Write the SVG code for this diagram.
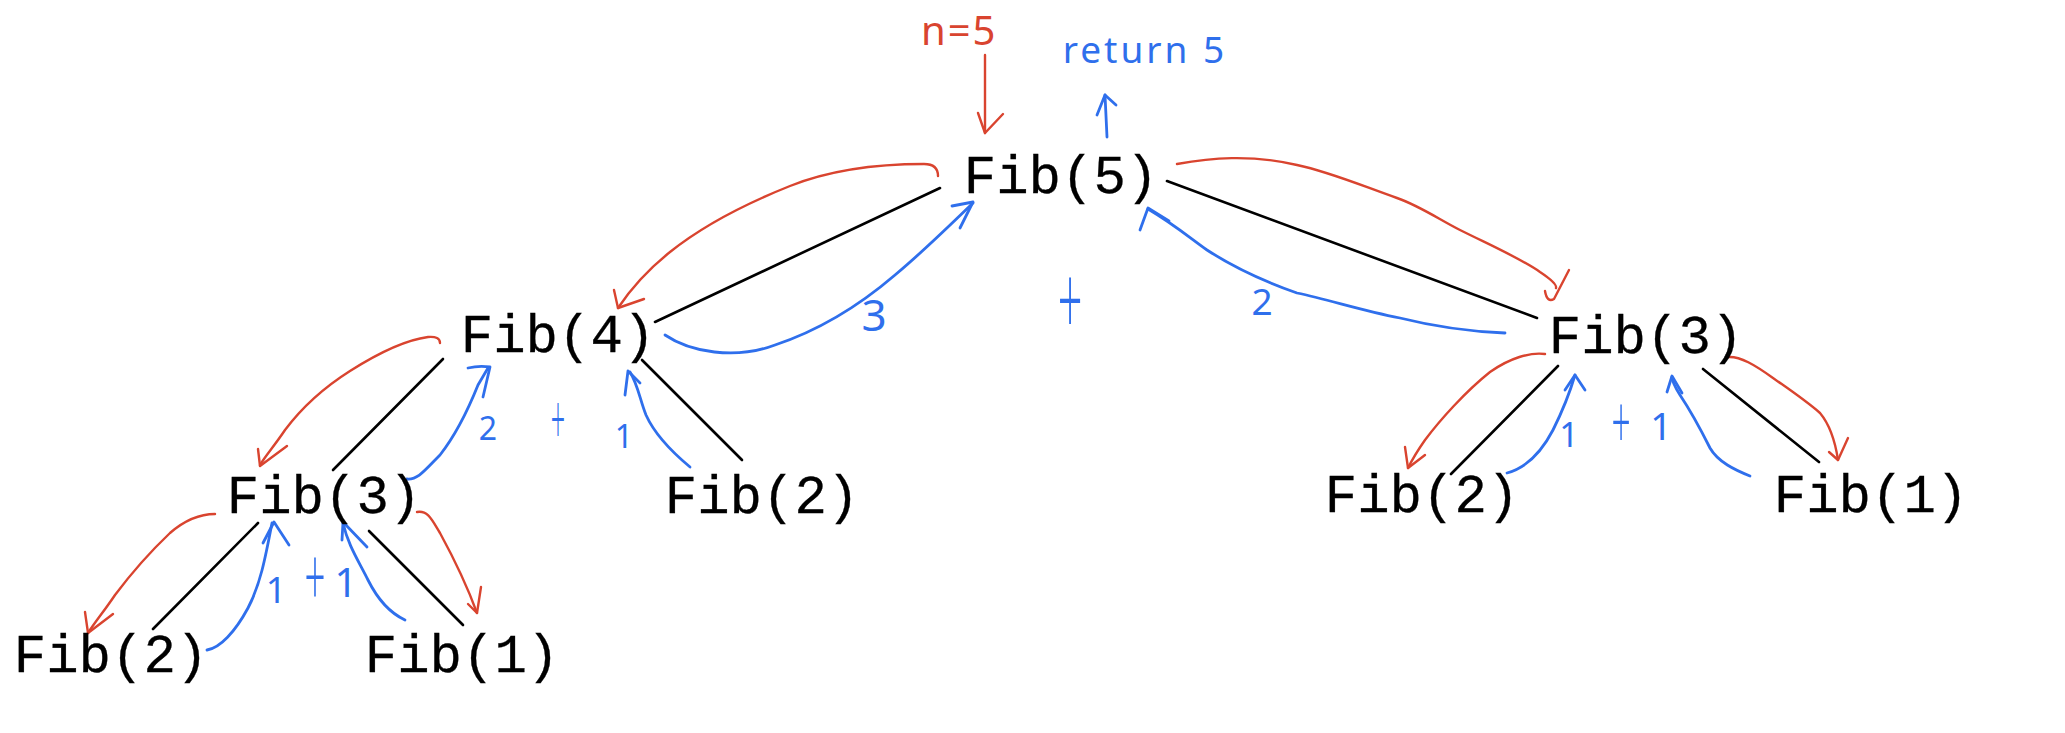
<svg xmlns="http://www.w3.org/2000/svg" width="2065" height="733" viewBox="0 0 2065 733">
<style>
.node text{font-family:"Liberation Mono","Courier New",monospace;font-size:54px;fill:#000;stroke:#000;stroke-width:0.3px;text-anchor:middle}
.edge{stroke:#000;stroke-width:2.6;fill:none;stroke-linecap:round}
.red{stroke:#d9442f;stroke-width:2.4;fill:none;stroke-linecap:round;stroke-linejoin:round}
.blue{stroke:#2f6fec;stroke-width:2.8;fill:none;stroke-linecap:round;stroke-linejoin:round}
.hb{font-family:"Noto Sans","Liberation Sans",sans-serif;fill:#2f6fec;text-anchor:middle}
.plus{font-family:"Open Sans","Noto Sans",sans-serif;font-weight:300;fill:#2f6fec;text-anchor:middle}
.hr{font-family:"Noto Sans","Liberation Sans",sans-serif;fill:#d9442f}
</style>
<rect width="2065" height="733" fill="#fff"/>
<g id="connectors">
<path class="edge" d="M940,188 L655,322"/>
<path class="edge" d="M1167,181 L1537,318"/>
<path class="edge" d="M443,359 L333,470"/>
<path class="edge" d="M642,360 L742,460"/>
<path class="edge" d="M1558,366 L1451,474"/>
<path class="edge" d="M1703,369 L1819,462"/>
<path class="edge" d="M258,523 L153,629"/>
<path class="edge" d="M369,531 L463,625"/>
</g>
<g id="calls">
<path class="red" d="M985,55 L985,133"/>
<path class="red" d="M978,113 L985,133 L1003,114"/>
<path class="red" d="M938,176 Q938,164 924,164 C880,164 830,170 790,186 C740,206 700,228 670,252 C645,272 630,290 618,308"/>
<path class="red" d="M614,290 L618,308 L644,299"/>
<path class="red" d="M1177,164 C1210,158 1250,154 1297,165 C1330,172 1360,185 1397,198 C1420,206 1440,220 1460,230 C1490,245 1520,258 1540,272 C1552,280 1557,285 1556,288"/>
<path class="red" d="M1545,291 Q1547,303 1554,299 L1569,270"/>
<path class="red" d="M440,343 Q440,336 428,337 C405,340 380,352 350,371 C320,390 300,410 285,430 C275,445 266,455 260,465"/>
<path class="red" d="M258,449 L260,466 L287,446"/>
<path class="red" d="M215,514 C200,514 185,520 170,533 C150,552 130,575 115,595 C105,610 95,622 88,633"/>
<path class="red" d="M85,612 L88,633 L113,614"/>
<path class="red" d="M417,512 C428,510 432,520 440,533 C452,555 465,580 477,613"/>
<path class="red" d="M468,604 L477,613 L481,587"/>
<path class="red" d="M1545,354 C1530,352 1510,358 1490,372 C1465,392 1440,420 1425,440 C1418,450 1412,460 1408,468"/>
<path class="red" d="M1405,447 L1408,468 L1425,455"/>
<path class="red" d="M1728,357 C1740,356 1755,365 1773,378 C1790,390 1805,400 1820,413 C1830,425 1835,440 1838,460"/>
<path class="red" d="M1829,452 L1838,460 L1848,438"/>
</g>
<g id="returns">
<path class="blue" d="M1107,137 L1105,95"/>
<path class="blue" d="M1097,115 L1105,95 L1116,105"/>
<path class="blue" d="M665,335 C690,352 735,360 775,345 C820,330 860,305 895,275 C925,250 950,225 973,203"/>
<path class="blue" d="M952,206 L973,202 L960,228"/>
<path class="blue" d="M1505,333 C1480,332 1440,328 1400,318 C1360,310 1330,300 1297,293 C1260,280 1230,265 1207,250 C1190,238 1175,225 1148,209"/>
<path class="blue" d="M1140,230 L1148,208 L1169,221"/>
<path class="blue" d="M407,479 C418,480 425,470 440,455 C458,432 470,405 478,385 L488,368"/>
<path class="blue" d="M468,368 C476,366 484,366 490,367 L483,397"/>
<path class="blue" d="M690,467 C672,452 655,435 646,415 C640,400 638,385 630,372"/>
<path class="blue" d="M625,395 L628,371 L640,383"/>
<path class="blue" d="M207,650 C220,648 235,632 248,608 C260,585 265,560 272,523"/>
<path class="blue" d="M263,543 L274,522 L289,545"/>
<path class="blue" d="M405,620 C390,613 378,600 368,580 C358,560 348,545 343,523"/>
<path class="blue" d="M342,540 L343,522 L367,547"/>
<path class="blue" d="M1507,473 C1525,468 1540,455 1553,430 C1563,410 1570,392 1575,375"/>
<path class="blue" d="M1565,390 L1575,375 L1585,390"/>
<path class="blue" d="M1750,476 C1735,470 1718,462 1710,448 C1700,428 1690,410 1680,395 C1675,387 1672,382 1672,377"/>
<path class="blue" d="M1667,392 L1672,376 L1682,393"/>
</g>
<g id="labels">
<text class="hr" x="921" y="45" font-size="40" letter-spacing="2">n=5</text>
<text class="hb" x="1145" y="63" font-size="37" letter-spacing="3">return 5</text>
<text class="hb" x="874" y="331" font-size="44">3</text>
<text class="hb" x="1262" y="315" font-size="37">2</text>
<text class="hb" x="488" y="440" font-size="32">2</text>
<text class="plus" transform="translate(1070,308) scale(0.8,1.85)" x="0" y="15" font-size="54">+</text>
<text class="plus" transform="translate(558,424) scale(0.7,1.95)" x="0" y="10" font-size="36">+</text>
<text class="hb" x="624" y="448" font-size="32">1</text>
<text class="hb" x="276" y="603" font-size="36">1</text>
<text class="plus" transform="translate(315,584) scale(0.8,1.8)" x="0" y="13" font-size="46">+</text>
<text class="hb" x="346" y="597" font-size="40">1</text>
<text class="hb" x="1569" y="447" font-size="34">1</text>
<text class="plus" transform="translate(1621,427) scale(0.8,1.8)" x="0" y="12" font-size="42">+</text>
<text class="hb" x="1661" y="440" font-size="38">1</text>
</g>
<g id="fib5" class="node"><text x="1061" y="193">Fib(5)</text></g>
<g id="fib4" class="node"><text x="558" y="352">Fib(4)</text></g>
<g id="fib3-right" class="node"><text x="1646" y="353">Fib(3)</text></g>
<g id="fib3-left" class="node"><text x="324" y="513">Fib(3)</text></g>
<g id="fib2-mid" class="node"><text x="762" y="513">Fib(2)</text></g>
<g id="fib2-right" class="node"><text x="1422" y="512">Fib(2)</text></g>
<g id="fib1-right" class="node"><text x="1871" y="512">Fib(1)</text></g>
<g id="fib2-bottom" class="node"><text x="111" y="672">Fib(2)</text></g>
<g id="fib1-bottom" class="node"><text x="462" y="672">Fib(1)</text></g>
</svg>
